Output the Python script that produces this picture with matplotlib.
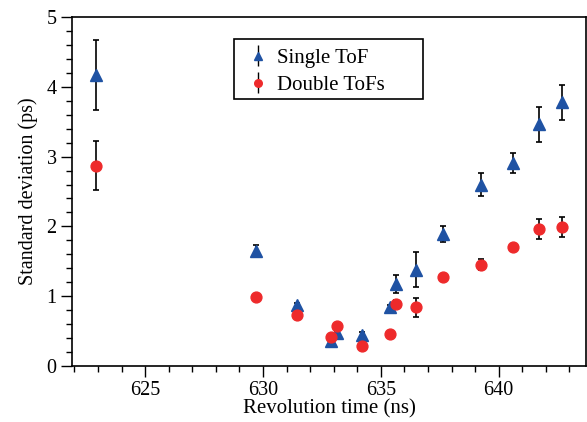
import numpy as np
import matplotlib.pyplot as plt
from matplotlib.patches import Rectangle
from matplotlib.ticker import MultipleLocator

plt.rcParams['font.family'] = ['Liberation Serif', 'DejaVu Serif']

# revolution times (ns)
rev_time = [622.9, 629.7, 631.43, 632.88, 633.12, 634.22, 635.38, 635.64,
            636.47, 637.64, 639.24, 640.59, 641.72, 642.69]

single_std = [4.17, 1.65, 0.87, 0.36, 0.47, 0.45, 0.84, 1.17,
              1.38, 1.89, 2.60, 2.91, 3.46, 3.78]
single_err = [0.50, 0.09, 0.03, 0.03, 0.03, 0.03, 0.03, 0.13,
              0.25, 0.12, 0.16, 0.14, 0.25, 0.25]

double_std = [2.87, 0.99, 0.73, 0.42, 0.58, 0.29, 0.46, 0.89,
              0.84, 1.27, 1.45, 1.70, 1.96, 1.99]
double_err = [0.35, 0.02, 0.02, 0.02, 0.02, 0.02, 0.02, 0.06,
              0.14, 0.05, 0.08, 0.05, 0.14, 0.14]

blue = '#1f52a3'
red = '#ee2a2b'

fig = plt.figure(figsize=(5.87, 4.22), dpi=100)
ax = fig.add_axes([0.1227, 0.1327, 0.8755, 0.827])

ax.errorbar(rev_time, single_std, yerr=single_err, fmt='^', color=blue,
            markersize=8, ecolor='black', elinewidth=1.2, capsize=2,
            capthick=1.2, zorder=3)
ax.errorbar(rev_time, double_std, yerr=double_err, fmt='o', color=red,
            markersize=7.8, ecolor='black', elinewidth=1.2, capsize=2,
            capthick=1.2, zorder=3)

# legend entries (no caps, like the original)
h1 = ax.errorbar([], [], yerr=[], fmt='^', color=blue, markersize=8,
                 ecolor='black', elinewidth=1.0, capsize=0, label='Single ToF')
h2 = ax.errorbar([], [], yerr=[], fmt='o', color=red, markersize=7.8,
                 ecolor='black', elinewidth=1.0, capsize=0, label='Double ToFs')

ax.set_xlim(621.9, 643.7)
ax.set_ylim(0, 5)
ax.xaxis.set_major_locator(MultipleLocator(5))
ax.xaxis.set_minor_locator(MultipleLocator(1))
ax.yaxis.set_major_locator(MultipleLocator(1))
ax.yaxis.set_minor_locator(MultipleLocator(0.2))
ax.tick_params(which='major', direction='out', length=8, width=1,
               labelsize=14.5, pad=3)
ax.tick_params(which='minor', direction='out', length=4, width=1)
for s in ax.spines.values():
    s.set_linewidth(1.2)

ax.set_xlabel('Revolution time (ns)', fontsize=15, labelpad=-1)
ax.set_ylabel('Standard deviation (ps)', fontsize=14.5, labelpad=6)

leg = ax.legend(handles=[h1, h2], loc='upper left',
                bbox_to_anchor=(0.315, 0.937), fontsize=15, frameon=False,
                borderaxespad=0, markerscale=0.7, handlelength=1.4,
                handletextpad=0.2, borderpad=0.45, labelspacing=0.35)
ax.add_patch(Rectangle((0.315, 0.765), 0.368, 0.172, transform=ax.transAxes,
                       fill=False, edgecolor='black', linewidth=1.2, zorder=4))

fig.savefig('out.png', dpi=100)
